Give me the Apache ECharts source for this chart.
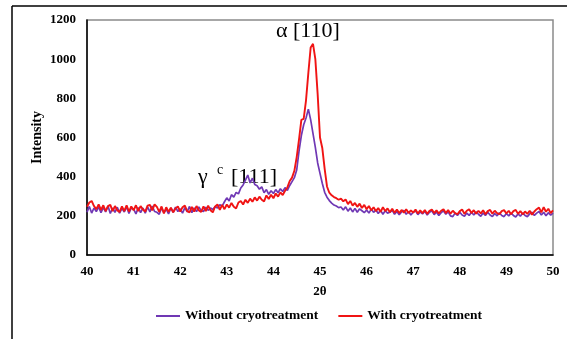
<!DOCTYPE html>
<html>
<head>
<meta charset="utf-8">
<script src="https://cdn.jsdelivr.net/npm/echarts@6/dist/echarts.min.js"></script>
<style>
html,body{margin:0;padding:0;background:#fff;}
#chart{width:567px;height:339px;}
</style>
</head>
<body>
<div id="chart"></div>
<script>
// Sampling grid of the diffraction scans (2θ, degrees)
const twoThetaStart = 40;
const twoThetaStep = 0.05;

// Intensity, Without cryotreatment (one row = 0.5°)
const withoutCryo = [
  218, 248, 214, 240, 222, 246, 216, 242, 220, 250,
  212, 240, 218, 244, 214, 238, 220, 246, 212, 240,
  234, 210, 242, 216, 240, 214, 246, 220, 250, 222,
  218, 208, 240, 216, 234, 210, 240, 218, 244, 222,
  236, 214, 242, 220, 248, 216, 240, 222, 246, 226,
  222, 244, 228, 240, 232, 248, 240, 256, 250, 272,
  292, 276, 308, 296, 320, 312, 342, 358, 382, 408,
  368, 392, 360, 354, 336, 348, 318, 334, 310, 328,
  314, 334, 318, 338, 324, 344, 330, 355, 375, 395,
  434, 530, 610, 665, 700, 745, 690, 620, 550, 470,
  417, 365, 320, 295, 278, 265, 255, 250, 242, 245,
  230, 246, 224, 240, 220, 238, 218, 236, 226, 216,
  230, 214, 234, 218, 230, 212, 228, 208, 226, 214,
  218, 228, 208, 222, 206, 220, 228, 208, 222, 204,
  218, 226, 206, 220, 210, 224, 204, 218, 226, 206,
  220, 202, 216, 226, 208, 220, 200, 196, 214, 202,
  218, 204, 198, 214, 202, 218, 204, 220, 208, 198,
  214, 202, 218, 204, 196, 212, 200, 216, 202, 196,
  212, 200, 214, 202, 194, 210, 198, 214, 202, 196,
  210, 218, 202, 214, 222, 204, 218, 200, 216, 204,
  214
];

// Intensity, With cryotreatment (one row = 0.5°)
const withCryo = [
  246, 268, 276, 250, 234, 258, 230, 254, 224, 250,
  256, 224, 250, 228, 220, 248, 224, 254, 222, 248,
  228, 254, 224, 250, 232, 222, 252, 256, 228, 258,
  246, 220, 248, 212, 244, 220, 242, 218, 238, 248,
  222, 244, 252, 224, 218, 246, 222, 250, 228, 220,
  248, 224, 252, 228, 218, 248, 258, 230, 256, 234,
  258, 242, 266, 246, 238, 268, 276, 258, 282, 266,
  288, 272, 294, 278, 298, 282, 274, 304, 286, 308,
  290, 314, 298, 320, 306, 328, 345, 378, 395, 430,
  500, 590, 690, 695, 790, 930, 1060, 1078, 1000, 820,
  600, 545, 440, 350, 318, 305, 296, 290, 282, 288,
  274, 284, 260, 276, 252, 266, 246, 262, 240, 256,
  234, 250, 228, 244, 224, 240, 220, 244, 224, 238,
  218, 236, 216, 232, 214, 230, 216, 234, 214, 228,
  216, 232, 212, 228, 214, 230, 210, 226, 232, 214,
  228, 212, 226, 234, 214, 230, 211, 226, 214, 208,
  224, 232, 210, 226, 234, 214, 229, 211, 226, 212,
  228, 208, 224, 230, 211, 226, 214, 208, 224, 229,
  212, 226, 208, 224, 230, 210, 224, 208, 222, 210,
  226, 206, 222, 234, 242, 218, 244, 221, 236, 214,
  228
];

const seriesNames = ['Without cryotreatment', 'With cryotreatment'];
const xAxisTitle = '2θ';
const yAxisTitle = 'Intensity';
const peakLabelAlpha = 'α [110]';
const peakLabelGamma = ['γ', 'c', '[111]'];

function toPairs(values) {
  return values.map((v, i) => [+(twoThetaStart + i * twoThetaStep).toFixed(2), v]);
}

const serif = '"Liberation Serif", "Times New Roman", serif';
const purple = '#7038b4';
const red = '#f01414';
const chart = echarts.init(document.getElementById('chart'), null, {renderer: 'canvas'});

chart.setOption({
  animation: false,
  backgroundColor: '#fff',
  grid: {
    left: 87, right: 14, top: 20, bottom: 84,
    show: true, borderColor: '#8a8a8a', borderWidth: 1.5, backgroundColor: 'transparent'
  },
  xAxis: {
    type: 'value', min: 40, max: 50, interval: 1,
    name: xAxisTitle, nameLocation: 'middle', nameGap: 30,
    nameTextStyle: {fontFamily: serif, fontWeight: 'bold', fontSize: 13, color: '#000'},
    axisLine: {show: true, onZero: false, lineStyle: {color: '#000', width: 1.5}},
    axisTick: {show: false},
    splitLine: {show: false},
    axisLabel: {margin: 10, fontFamily: serif, fontWeight: 'bold', fontSize: 13, color: '#000'}
  },
  yAxis: {
    type: 'value', min: 0, max: 1200, interval: 200,
    name: yAxisTitle, nameLocation: 'middle', nameGap: 43, nameRotate: 90,
    nameMoveOverlap: false,
    nameTextStyle: {fontFamily: serif, fontWeight: 'bold', fontSize: 14, color: '#000'},
    axisLine: {show: true, lineStyle: {color: '#000', width: 1.5}},
    axisTick: {show: false},
    splitLine: {show: false},
    axisLabel: {margin: 11, fontFamily: serif, fontWeight: 'bold', fontSize: 13, color: '#000',
      formatter: v => String(v)}
  },
  legend: {
    left: 151, top: 304,
    icon: 'rect', itemWidth: 24, itemHeight: 2, itemGap: 20,
    textStyle: {fontFamily: serif, fontWeight: 'bold', fontSize: 13.5, color: '#000'},
    data: seriesNames
  },
  series: [
    {
      name: seriesNames[0], type: 'line', symbol: 'none',
      data: toPairs(withoutCryo),
      lineStyle: {color: purple, width: 1.7}, itemStyle: {color: purple}
    },
    {
      name: seriesNames[1], type: 'line', symbol: 'none',
      data: toPairs(withCryo),
      lineStyle: {color: red, width: 1.9}, itemStyle: {color: red}
    }
  ],
  graphic: [
    {type: 'line', shape: {x1: 12, y1: 6, x2: 567, y2: 6}, style: {stroke: '#000', lineWidth: 1.5}, silent: true},
    {type: 'line', shape: {x1: 12, y1: 6, x2: 12, y2: 339}, style: {stroke: '#000', lineWidth: 1.5}, silent: true},
    {type: 'text', left: 276, top: 20,
      style: {text: peakLabelAlpha, font: '22px ' + serif, fill: '#000'}},
    {type: 'text', left: 198, top: 166,
      style: {text: peakLabelGamma[0], font: '22px ' + serif, fill: '#000'}},
    {type: 'text', left: 217, top: 163,
      style: {text: peakLabelGamma[1], font: '14px ' + serif, fill: '#000'}},
    {type: 'text', left: 231, top: 166,
      style: {text: peakLabelGamma[2], font: '22px ' + serif, fill: '#000'}}
  ]
});
</script>
</body>
</html>
